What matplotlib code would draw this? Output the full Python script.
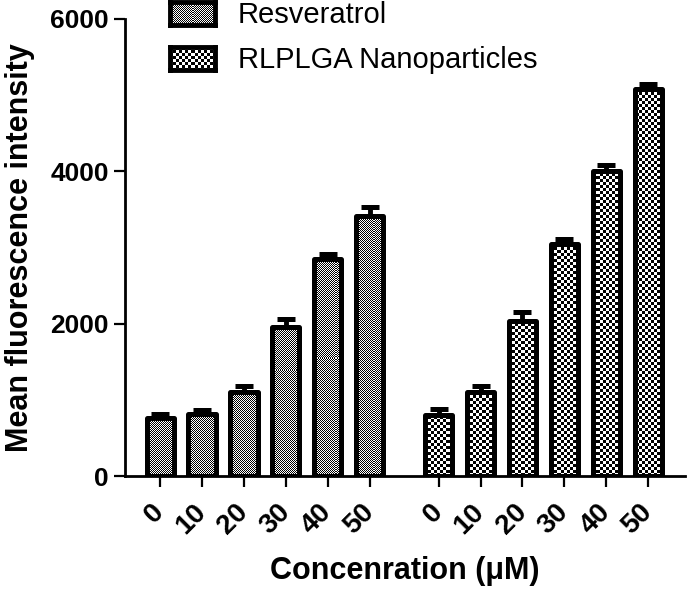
import numpy as np
import matplotlib
matplotlib.use('Agg')
import matplotlib.pyplot as plt

# 농도 (uM)
conc_labels = ['0', '10', '20', '30', '40', '50']
# Resveratrol 평균 / 오차
res_mean = [760, 810, 1100, 1960, 2850, 3420]
res_err = [50, 60, 80, 100, 60, 110]
# RLPLGA Nanoparticles 평균 / 오차
np_mean = [800, 1100, 2030, 3050, 4000, 5080]
np_err = [80, 80, 120, 60, 80, 70]

series_names = ['Resveratrol', 'RLPLGA Nanoparticles']

plt.rcParams['font.family'] = ['Liberation Sans', 'DejaVu Sans']

W, H = 689, 590
fig = plt.figure(figsize=(W / 100, H / 100), dpi=100)
ax = fig.add_axes([125 / W, 114 / H, 560 / W, 457 / H])

x1 = np.arange(6)
x2 = np.arange(6) + 6.65
xlim = (-0.84, 12.53)
ylim = (0, 6000)

# 체커 패턴 (픽셀 단위)
ii, jj = np.indices((457, 560))
fine = (ii + jj) % 2
coarse = ((ii // 3) + (jj // 3)) % 2

bar_w = 0.65
edge_lw = 3.6

bars1 = ax.bar(x1, res_mean, width=bar_w, facecolor='none', edgecolor='black',
               linewidth=edge_lw, joinstyle='round', zorder=3)
bars2 = ax.bar(x2, np_mean, width=bar_w, facecolor='none', edgecolor='black',
               linewidth=edge_lw, joinstyle='round', zorder=3)

for bars, pat in [(bars1, fine), (bars2, coarse)]:
    for b in bars:
        img = ax.imshow(pat, cmap='gray', extent=(*xlim, *ylim), origin='lower',
                        aspect='auto', interpolation='nearest', zorder=1)
        img.set_clip_path(b)

# 위쪽 오차막대만
for xs, m, e in [(x1, res_mean, res_err), (x2, np_mean, np_err)]:
    ax.errorbar(xs, m, yerr=[np.zeros(len(e)), e], fmt='none', ecolor='black',
                elinewidth=3.5, capsize=6.5, capthick=3.6, zorder=4)

ax.set_xlim(*xlim)
ax.set_ylim(*ylim)

for s in ['top', 'right']:
    ax.spines[s].set_visible(False)
for s in ['left', 'bottom']:
    ax.spines[s].set_linewidth(2)

ax.set_yticks([0, 2000, 4000, 6000])
ax.set_xticks(np.concatenate([x1, x2]))
ax.set_xticklabels(conc_labels + conc_labels, rotation=45, ha='right', va='center',
                   rotation_mode='anchor')
ax.tick_params(axis='both', direction='out', length=8, width=1.6)
ax.tick_params(axis='y', labelsize=19)
ax.tick_params(axis='x', labelsize=20, pad=15)
for lab in ax.get_xticklabels() + ax.get_yticklabels():
    lab.set_fontweight('bold')

ax.set_ylabel('Mean fluorescence intensity', fontsize=22, fontweight='bold', labelpad=11)
ax.set_xlabel('Concenration (\u03bcM)', fontsize=22, fontweight='bold', labelpad=12)

# 범례 (체커 패턴 견본)
for k, (name, pat) in enumerate(zip(series_names, [fine, coarse])):
    top = 2 + 45 * k
    sw = fig.add_axes([170 / W, 1 - (top + 23) / H, 45 / W, 23 / H])
    sw.imshow(pat[:23, :45], cmap='gray', interpolation='nearest', aspect='auto')
    sw.set_xticks([])
    sw.set_yticks([])
    for s in sw.spines.values():
        s.set_linewidth(3.5)
    fig.text(238 / W, 1 - (top + 13) / H, name, fontsize=21, va='center', ha='left')

fig.savefig('out.png', dpi=100)
